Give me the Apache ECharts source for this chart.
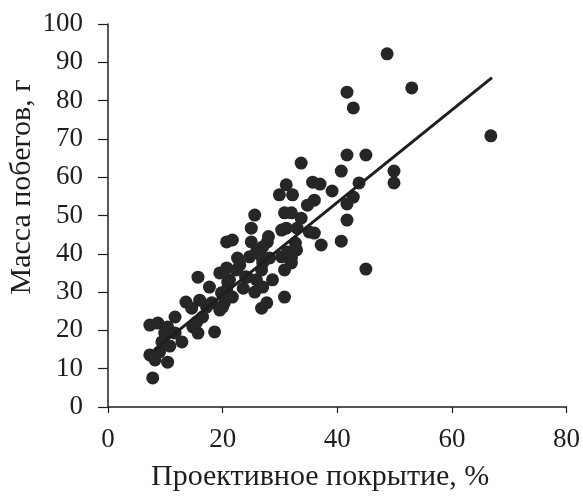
<!DOCTYPE html>
<html><head><meta charset="utf-8">
<script src="https://cdn.jsdelivr.net/npm/echarts@6/dist/echarts.min.js"></script>
<style>html,body{margin:0;padding:0;background:#fff}#c{width:583px;height:498px}</style>
</head><body><div id="c"></div>
<script>
// Scatter data: projective cover (%) and shoot mass (g)
const coverX = [7.8,7.3,8.2,10.4,9.0,7.3,8.7,11.7,10.4,9.9,9.4,11.7,12.9,10.8,13.6,14.6,14.8,15.7,15.5,16.5,
  17.2,18.1,16.0,18.6,15.7,17.7,19.8,20.7,19.5,20.7,20.9,21.7,19.5,20.3,22.6,23.0,20.7,21.7,25.0,25.0,
  25.6,24.7,25.9,27.0,27.0,25.9,27.0,28.7,26.8,27.7,30.8,30.8,30.3,31.3,27.8,24.3,28.2,29.9,31.1,32.2,
  30.8,32.0,30.3,31.1,32.7,32.9,32.0,33.7,33.7,34.8,36.0,35.1,36.0,35.7,37.0,39.1,37.2,40.7,41.7,41.7,
  42.8,43.8,40.7,41.7,45.0,49.9,49.9,45.0,41.7,42.8,48.7,53.0,66.8,22.4,26.8,33.0,26.8,32.0,25.6,20.0,
  21.2,23.6,28.0,24.0];
const massY = [7.6,13.6,12.3,11.7,14.4,21.4,21.9,23.5,20.9,19.3,17.0,19.3,17.0,15.9,27.4,25.8,20.9,19.3,22.2,23.5,
  26.1,27.2,27.9,19.6,33.9,31.3,29.8,30.5,35.0,36.3,32.6,28.7,25.3,27.2,38.9,37.1,43.1,43.6,46.7,43.1,
  50.1,39.2,40.5,41.8,37.6,33.2,31.3,33.2,25.8,27.2,28.7,35.8,39.2,40.5,43.1,33.9,38.9,55.4,58.0,55.4,
  50.7,50.7,46.2,46.7,42.8,41.0,38.9,63.7,49.3,52.7,54.0,45.7,45.4,58.7,58.2,56.4,42.3,43.3,48.8,53.0,
  54.8,58.5,61.6,65.8,65.8,61.6,58.5,36.0,82.2,78.1,92.2,83.3,70.8,35.8,35.8,46.7,39.2,37.6,30.0,26.1,
  33.2,31.0,44.5,34.0];
// Regression line endpoints
const trendX = [8, 67];
const trendY = [14.8, 86];
const xTicks = [0, 20, 40, 60, 80];
const yTicks = [0, 10, 20, 30, 40, 50, 60, 70, 80, 90, 100];
const xTitle = 'Проективное покрытие, %';
const yTitle = 'Масса побегов, г';

const points = coverX.map((x, i) => [x, massY[i]]);
const trend = trendX.map((x, i) => [x, trendY[i]]);
const font = '"Liberation Serif","Times New Roman",serif';
const ink = '#1e1e1e';

const chart = echarts.init(document.getElementById('c'));
chart.setOption({
  animation: false,
  backgroundColor: '#fff',
  grid: {left: 108, right: 15, top: 24, bottom: 91},
  xAxis: {
    type: 'value', min: xTicks[0], max: xTicks[xTicks.length - 1], interval: 20,
    axisLine: {show: true, lineStyle: {color: ink, width: 1.5}},
    axisTick: {show: true, length: 6, lineStyle: {color: ink, width: 1.2}},
    axisLabel: {color: ink, fontFamily: font, fontSize: 27, margin: 19},
    splitLine: {show: false}
  },
  yAxis: {
    type: 'value', min: yTicks[0], max: yTicks[yTicks.length - 1], interval: 10,
    axisLine: {show: true, lineStyle: {color: ink, width: 1.5}},
    axisTick: {show: true, length: 10, lineStyle: {color: ink, width: 1.2}},
    axisLabel: {color: ink, fontFamily: font, fontSize: 27, margin: 25},
    splitLine: {show: false}
  },
  graphic: [
    {type: 'text', left: 151, top: 462,
     style: {text: xTitle, font: '30px ' + font, fill: ink}},
    {type: 'text', x: 7, y: 187, rotation: Math.PI / 2,
     style: {text: yTitle, font: '30px ' + font, fill: ink, align: 'center', verticalAlign: 'top'}}
  ],
  series: [
    {type: 'scatter', data: points, symbolSize: 13,
     itemStyle: {color: '#262626', opacity: 1}, z: 2},
    {type: 'line', data: trend, showSymbol: false, symbol: 'none',
     lineStyle: {color: ink, width: 3}, z: 3}
  ]
});
</script></body></html>
